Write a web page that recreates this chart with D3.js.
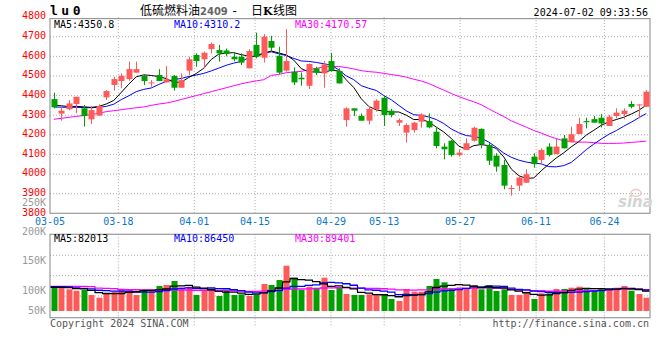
<!DOCTYPE html>
<html><head><meta charset="utf-8">
<script src="https://cdn.jsdelivr.net/npm/d3@7/dist/d3.min.js"></script>
<style>body{margin:0;background:#fff}svg{display:block}</style>
</head><body><svg id="c" width="660" height="360"></svg>
<script>
// ---------- DATA ----------
const dates = ["03-05","03-06","03-07","03-08","03-11","03-12","03-13","03-14","03-15","03-18","03-19","03-20","03-21","03-22","03-25","03-26","03-27","03-28","03-29",
"04-01","04-02","04-03","04-08","04-09","04-10","04-11","04-12","04-15","04-16","04-17","04-18","04-19","04-22","04-23","04-24","04-25","04-26","04-29","04-30",
"05-06","05-07","05-08","05-09","05-10","05-13","05-14","05-15","05-16","05-17","05-20","05-21","05-22","05-23","05-24","05-27","05-28","05-29","05-30","05-31",
"06-03","06-04","06-05","06-06","06-07","06-11","06-12","06-13","06-14","06-17","06-18","06-19","06-20","06-21","06-24","06-25","06-26","06-27","06-28",
"07-01","07-02"];
const open  = [4382,4308,4330,4357,4335,4279,4298,4391,4454,4474,4484,4517,4500,4462,4505,4467,4500,4440,4527,4607,4585,4637,4632,4630,4598,4598,4539,4658,4593,4678,4603,4527,4522,4491,4450,4539,4513,4576,4525,4275,4335,4296,4272,4330,4389,4323,4262,4211,4224,4267,4270,4216,4140,4170,4097,4123,4170,4230,4148,4094,4046,3926,3941,3956,4089,4072,4140,4102,4182,4162,4204,4270,4280,4287,4245,4296,4306,4357,4352,4343];
const high  = [4415,4340,4377,4394,4352,4347,4355,4428,4496,4513,4573,4573,4505,4479,4535,4550,4505,4513,4598,4615,4624,4670,4658,4640,4620,4615,4636,4721,4714,4705,4649,4739,4544,4518,4564,4547,4576,4618,4539,4340,4335,4309,4347,4381,4398,4332,4284,4258,4267,4309,4309,4238,4157,4174,4126,4182,4242,4233,4157,4106,4072,3944,3987,4024,4106,4131,4157,4182,4199,4242,4287,4287,4296,4306,4301,4335,4335,4372,4355,4428];
const low   = [4335,4272,4325,4310,4242,4255,4298,4377,4425,4437,4476,4517,4454,4445,4474,4467,4425,4440,4505,4547,4539,4615,4573,4600,4575,4556,4539,4590,4568,4624,4508,4522,4454,4450,4433,4505,4440,4522,4462,4242,4296,4272,4253,4318,4245,4289,4245,4160,4211,4236,4233,4131,4075,4089,4089,4123,4165,4131,4046,4012,3922,3890,3914,3956,4033,4051,4089,4102,4131,4162,4204,4233,4262,4238,4245,4284,4279,4335,4284,4343];
const close = [4340,4323,4360,4394,4296,4326,4347,4423,4484,4501,4535,4535,4474,4467,4474,4483,4440,4479,4585,4576,4618,4663,4615,4612,4585,4568,4627,4598,4700,4644,4517,4576,4467,4483,4561,4517,4559,4527,4462,4335,4323,4272,4332,4374,4301,4301,4275,4250,4262,4304,4238,4143,4126,4097,4109,4157,4236,4153,4068,4038,3941,3929,3982,3999,4051,4123,4097,4140,4131,4203,4255,4264,4262,4258,4292,4313,4323,4343,4355,4420];
// volume in thousands of lots
const volume = [96.5,100.6,89.8,84.0,86.9,66.2,55.1,70.4,79.9,91.1,91.1,66.2,91.1,86.9,103.5,107.6,124.2,96.5,100.6,66.2,86.9,89.8,62.1,84.0,66.2,69.1,62.1,66.2,111.8,107.6,128.3,187.5,137.9,86.9,100.6,96.5,137.9,86.9,96.5,70.4,66.2,66.2,69.1,69.1,66.2,49.7,41.4,91.1,79.9,79.9,103.5,132.5,118.8,94.0,98.1,94.0,107.6,89.8,107.6,82.8,89.8,66.2,66.2,73.3,49.7,73.3,73.3,91.1,91.1,96.5,100.6,91.1,82.8,91.1,91.1,96.5,103.5,84.0,70.4,55.1];
// moving-average values before a full window exists
const ma5Lead  = [4352,4348,4344,4345];
const ma10Lead = [4342,4341,4340,4340,4339,4338,4340,4345,4356];
const ma30Lead = [4279,4284,4289,4294,4298,4303,4310,4318,4323,4328,4333,4338,4342,4350,4357,4362,4370,4380,4390,4400,4410,4420,4430,4440,4450,4460,4468,4475,4481];
const vma5Lead  = [98,98,97,93];
const vma10Lead = [101,101,100,96,94,92,86,84,82];
const vma30Lead = [102,102,102,102,102,101,95,94,93,89,88,88,87,87,87,87,87,87,87,86,86,86,85,85,84,82,81,81,82];
const priceTicks = [3800,3900,4000,4100,4200,4300,4400,4500,4600,4700,4800];
const volTickValues = [250,200,150,100,50];
const volTickLabels = ["250K","200K","150K","100K","50K"];
const dateTicks = ["03-05","03-18","04-01","04-15","04-29","05-13","05-27","06-11","06-24"];
const legendPrice = ["MA5:4350.8","MA10:4310.2","MA30:4170.57"];
const legendVol = ["MA5:82013","MA10:86450","MA30:89401"];

// ---------- HELPERS ----------
function movAvg(arr, n, lead){
  return arr.map((v,i)=> i < n-1 ? lead[i] : d3.mean(arr.slice(i-n+1, i+1)));
}
const ma5 = movAvg(close,5,ma5Lead), ma10 = movAvg(close,10,ma10Lead), ma30 = movAvg(close,30,ma30Lead);
const vma5 = movAvg(volume,5,vma5Lead), vma10 = movAvg(volume,10,vma10Lead), vma30 = movAvg(volume,30,vma30Lead);

const svg = d3.select("#c");
const L = 50, R = 650;
const PT = 17.1, PB = 213.3;   // price panel
const VT = 234.3, VB = 317.7;  // volume panel
const mono = "'DejaVu Sans Mono', monospace";
const RED = "#ff5a5a", GREEN = "#00a000";

const idx = d3.range(dates.length);
const x = d3.scaleBand().domain(idx).range([L,R]).paddingInner(0.2).paddingOuter(0.1);
const xg = d3.scalePoint().domain(idx).range([L,R]);
const xc = i => x(i) + x.bandwidth()/2;
const y = d3.scaleLinear().domain([3800,4800]).range([PB,PT]);
const yv = d3.scaleLinear().domain([0,100]).range([311,286.85]);
const yvLabel = d3.scaleLinear().domain([50,100,200,250]).range([310.7,290.3,231,202.6]);

const tickIdx = dateTicks.map(t => dates.indexOf(t));

// ---------- PRICE PANEL ----------
const gp = svg.append("g");
gp.selectAll("line.hg").data(priceTicks.filter(t=>t>3800 && t<4800)).join("line")
  .attr("x1",L).attr("x2",R).attr("y1",d=>y(d)).attr("y2",d=>y(d))
  .attr("stroke","#aaa").attr("stroke-dasharray","1,2");
gp.selectAll("line.vg").data(tickIdx.filter(i=>i>0)).join("line")
  .attr("x1",d=>xg(d)).attr("x2",d=>xg(d)).attr("y1",PT).attr("y2",PB)
  .attr("stroke","#aaa").attr("stroke-dasharray","1,2");
gp.append("rect").attr("x",L).attr("y",PT+1.5).attr("width",R-L).attr("height",PB-PT-1.5)
  .attr("fill","none").attr("stroke","#999").attr("stroke-width",1.2);

svg.append("g").selectAll("text").data(priceTicks).join("text")
  .attr("x",46).attr("y",d=>y(d)-1.2).attr("dy","0.35em").attr("text-anchor","end")
  .attr("font-family",mono).attr("font-size",10).attr("fill","#ff0000").text(d=>d);

// watermark
const wm = svg.append("g");
wm.append("text").attr("x",618).attr("y",207).attr("font-family","'DejaVu Sans',sans-serif")
  .attr("font-style","italic").attr("font-weight","bold").attr("font-size",15)
  .attr("fill","#d4d4d4").text("sina");
wm.append("ellipse").attr("cx",636).attr("cy",193).attr("rx",5).attr("ry",3.5)
  .attr("fill","none").attr("stroke","#f0c8c8").attr("stroke-width",1.5);

// moving averages (price)
const line = d3.line().x((d,i)=>xc(i)).y(d=>y(d));
[[ma30,"#ff00ff"],[ma10,"#0000ff"],[ma5,"#000"]].forEach(([s,c])=>{
  gp.append("path").attr("d",line(s)).attr("fill","none").attr("stroke",c).attr("stroke-width",1);
});

// candles
const cg = gp.selectAll("g.c").data(idx).join("g");
cg.append("line")
  .attr("x1",i=>Math.round(xc(i))+0.5).attr("x2",i=>Math.round(xc(i))+0.5)
  .attr("y1",i=>y(high[i])).attr("y2",i=>y(low[i]))
  .attr("stroke",i=>close[i]>=open[i]?RED:GREEN).attr("stroke-width",1);
cg.append("rect")
  .attr("x",i=>Math.round(xc(i))-2.5).attr("width",6)
  .attr("y",i=>y(Math.max(open[i],close[i])))
  .attr("height",i=>Math.max(1,Math.abs(y(open[i])-y(close[i]))))
  .attr("fill",i=>close[i]>=open[i]?RED:GREEN);

const legX = [54,174,295], legC = ["#000","#0000ff","#ff00ff"];
svg.append("g").selectAll("text").data(legendPrice).join("text")
  .attr("x",(d,i)=>legX[i]).attr("y",27.5).attr("font-family",mono).attr("font-size",10)
  .attr("fill",(d,i)=>legC[i]).text(d=>d);

svg.append("g").selectAll("text").data(tickIdx).join("text")
  .attr("x",d=>xg(d)).attr("y",225).attr("text-anchor","middle")
  .attr("font-family",mono).attr("font-size",10).attr("fill","#0a78c8").text(d=>dates[d]);

// ---------- VOLUME PANEL ----------
const gv = svg.append("g");
gv.selectAll("line.hg").data([yv.invert(255.3),yv.invert(275.6),yv.invert(296)]).join("line")
  .attr("x1",L).attr("x2",R).attr("y1",d=>yv(d)).attr("y2",d=>yv(d))
  .attr("stroke","#aaa").attr("stroke-dasharray","1,2");
gv.selectAll("line.vg").data(tickIdx.filter(i=>i>0)).join("line")
  .attr("x1",d=>xg(d)).attr("x2",d=>xg(d)).attr("y1",VT).attr("y2",326)
  .attr("stroke","#aaa").attr("stroke-dasharray","1,2");
gv.selectAll("rect.v").data(idx).join("rect")
  .attr("x",i=>Math.round(xc(i))-2.5).attr("width",6)
  .attr("y",i=>yv(volume[i])).attr("height",i=>yv(0)-yv(volume[i]))
  .attr("fill",i=>close[i]>=open[i]?RED:GREEN);
const stepLine = d3.line().x(d=>d[0]).y(d=>d[1]);
[[vma30,"#ff00ff"],[vma10,"#0000ff"],[vma5,"#000"]].forEach(([s,c])=>{
  const pts = s.flatMap((v,i)=>[[x(i)-0.6, yv(v)],[x(i)+x.step()-0.9, yv(v)]]);
  gv.append("path").attr("d",stepLine(pts)).attr("fill","none").attr("stroke",c).attr("stroke-width",1.3);
});
gv.append("rect").attr("x",L).attr("y",VT).attr("width",R-L).attr("height",VB-VT)
  .attr("fill","none").attr("stroke","#999").attr("stroke-width",1.2);

svg.append("g").selectAll("text").data(volTickValues).join("text")
  .attr("x",46).attr("y",d=>yvLabel(d)).attr("dy","0.35em").attr("text-anchor","end")
  .attr("font-family",mono).attr("font-size",10).attr("fill","#999").text((d,i)=>volTickLabels[i]);

svg.append("g").selectAll("text").data(legendVol).join("text")
  .attr("x",(d,i)=>legX[i]).attr("y",241.5).attr("font-family",mono).attr("font-size",10)
  .attr("fill",(d,i)=>legC[i]).text(d=>d);

// ---------- TITLES ----------
svg.append("text").attr("x",50).attr("y",15).attr("font-family",mono).attr("font-weight","bold")
  .attr("font-size",13).attr("letter-spacing","3.5px").attr("fill","#000").text("lu0");
const cjk = "'Noto Sans CJK SC', sans-serif";
svg.append("text").attr("x",140).attr("y",15).attr("font-family",cjk).attr("font-size",12).attr("fill","#000").text("低硫燃料油");
svg.append("text").attr("x",200).attr("y",15).attr("font-family","'DejaVu Sans', sans-serif").attr("font-weight","bold").attr("font-size",10).attr("fill","#666").text("2409");
svg.append("text").attr("x",231).attr("y",15).attr("font-family",mono).attr("font-size",12).attr("fill","#000").text("-");
svg.append("text").attr("x",251).attr("y",15).attr("font-family",cjk).attr("font-size",12).attr("fill","#000").text("日");
svg.append("text").attr("x",263).attr("y",15).attr("font-family","'DejaVu Serif', serif").attr("font-weight","bold").attr("font-size",11).attr("fill","#000").text("K");
svg.append("text").attr("x",273).attr("y",15).attr("font-family",cjk).attr("font-size",12).attr("fill","#000").text("线图");
svg.append("text").attr("x",648).attr("y",16).attr("text-anchor","end").attr("font-family",mono).attr("font-size",10).attr("fill","#000").text("2024-07-02 09:33:56");

svg.append("text").attr("x",50).attr("y",327).attr("font-family",mono).attr("font-size",10).attr("fill","#555").text("Copyright 2024 SINA.COM");
svg.append("text").attr("x",649).attr("y",327).attr("text-anchor","end").attr("font-family",mono).attr("font-size",10).attr("fill","#555").text("http://finance.sina.com.cn");
</script></body></html>
